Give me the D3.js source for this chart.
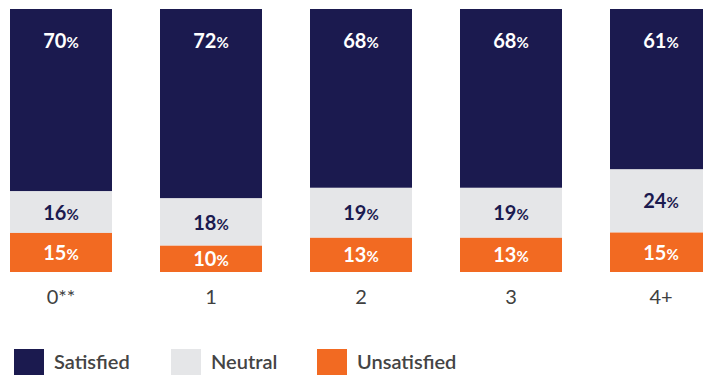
<!DOCTYPE html>
<html>
<head>
<meta charset="utf-8">
<script src="https://cdn.jsdelivr.net/npm/d3@7/dist/d3.min.js"></script>
<style>
  html, body { margin: 0; padding: 0; background: #fff; }
  svg { display: block; font-family: Lato, "Open Sans", sans-serif; }
</style>
</head>
<body>
<svg id="chart" width="703" height="375"></svg>
<script>
// Satisfaction by group, shares in percent
const categories = ["0**", "1", "2", "3", "4+"];
const satisfied   = [70, 72, 68, 68, 61];
const neutral     = [16, 18, 19, 19, 24];
const unsatisfied = [15, 10, 13, 13, 15];
const seriesNames = ["Satisfied", "Neutral", "Unsatisfied"];
const seriesColors = ["#1b1a4f", "#e5e6e8", "#f26a22"];
const labelColors = ["#ffffff", "#1b1a4f", "#ffffff"];

const rows = categories.map((c, i) => ({
  cat: c, Satisfied: satisfied[i], Neutral: neutral[i], Unsatisfied: unsatisfied[i]
}));

const svg = d3.select("#chart");

const x = d3.scaleBand().domain(categories).range([10, 712]).paddingInner(0.32).paddingOuter(0);
// stacking runs top-down: Satisfied on top, Unsatisfied at the base
const y = d3.scaleLinear().domain([0, 1]).range([9, 272]);

// shares are normalised per bar so each column fills the full height
const stack = d3.stack().keys(seriesNames).order(d3.stackOrderNone).offset(d3.stackOffsetExpand);
const layers = stack(rows);

const g = svg.append("g");
layers.forEach((layer, li) => {
  const lg = g.append("g").attr("fill", seriesColors[li]);
  lg.selectAll("rect").data(layer).join("rect")
    .attr("x", d => x(d.data.cat))
    .attr("width", x.bandwidth())
    .attr("y", d => y(d[0]))
    .attr("height", d => y(d[1]) - y(d[0]));

  const tg = g.append("g");
  const t = tg.selectAll("text").data(layer).join("text")
    .attr("x", d => x(d.data.cat) + x.bandwidth() / 2)
    .attr("y", d => li === 0 ? y(d[0]) + 39 : (y(d[0]) + y(d[1])) / 2 + 7.5)
    .attr("text-anchor", "middle")
    .attr("fill", labelColors[li])
    .attr("font-weight", 700);
  t.append("tspan").attr("font-size", 20).text(d => d.data[seriesNames[li]]);
  t.append("tspan").attr("font-size", 15).text("%");
});

// category axis
const axis = d3.axisBottom(x).tickSize(0).tickPadding(0);
const ax = svg.append("g").attr("transform", "translate(0,290)").call(axis);
ax.select(".domain").remove();
ax.selectAll("text")
  .attr("font-family", "Lato, sans-serif")
  .attr("font-size", 20)
  .attr("fill", "#404040")
  .attr("dy", "0.72em");

// legend
const legendX = [14, 171, 317];
const lgd = svg.append("g");
seriesNames.forEach((name, i) => {
  lgd.append("rect").attr("x", legendX[i]).attr("y", 349).attr("width", 30).attr("height", 27)
    .attr("fill", seriesColors[i]);
  lgd.append("text").attr("x", legendX[i] + 40).attr("y", 368.5)
    .attr("font-size", 20).attr("font-weight", 600).attr("fill", "#444").text(name);
});
</script>
</body>
</html>
